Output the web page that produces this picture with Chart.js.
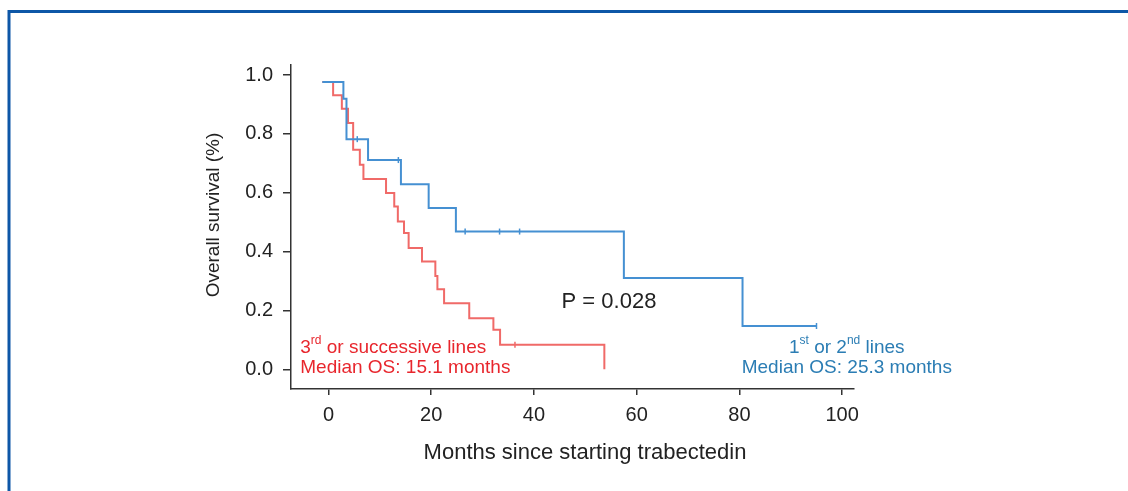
<!DOCTYPE html>
<html>
<head>
<meta charset="utf-8">
<script src="https://cdn.jsdelivr.net/npm/chart.js@4/dist/chart.umd.min.js"></script>
<style>
  html, body { margin: 0; padding: 0; background: #fff; }
  #wrap { position: relative; width: 1128px; height: 491px; }
</style>
</head>
<body>
<div id="wrap"><canvas id="kmChart" width="1128" height="491"></canvas></div>
<script>
// Kaplan-Meier steps, 1st or 2nd lines (months, survival after the step)
const blueTimes = [-1.2, 2.9, 3.5, 7.7, 14.1, 19.5, 24.8, 57.5, 80.6, 95.0];
const blueSurv = [0.976, 0.919, 0.782, 0.711, 0.629, 0.548, 0.468, 0.31, 0.147, 0.147];
const blueCensorTimes = [5.6, 13.6, 26.6, 33.3, 37.2, 95.0];
const blueCensorSurv = [0.782, 0.711, 0.468, 0.468, 0.468, 0.147];

// 3rd or successive lines
const redTimes = [-1.2, 0.9, 2.6, 3.8, 4.8, 6.1, 6.8, 11.2, 12.8, 13.5, 14.7, 15.6, 18.2, 20.8, 21.2, 22.5, 27.4, 32.1, 33.4, 53.7];
const redSurv = [0.976, 0.931, 0.885, 0.837, 0.746, 0.695, 0.647, 0.599, 0.553, 0.502, 0.463, 0.412, 0.366, 0.317, 0.272, 0.224, 0.173, 0.134, 0.083, 0.0];
const redCensorTimes = [36.3];
const redCensorSurv = [0.083];

const xTicks = [0, 20, 40, 60, 80, 100];
const yTicks = [0, 0.2, 0.4, 0.6, 0.8, 1.0];

const xTitle = "Months since starting trabectedin";
const yTitle = "Overall survival (%)";
const pText = "P = 0.028";

const BLUE = "#4590d2";
const RED = "#f06a68";
const BLUE_TXT = "#2b7db4";
const RED_TXT = "#e8262d";
const INK = "#222";
const FONT = "'Liberation Sans', Arial, sans-serif";

const toPts = (xs, ys) => xs.map((x, i) => ({ x: x, y: ys[i] }));

// draw text made of segments, some of them superscript
function richText(ctx, segs, x, y, size, align) {
  const widths = segs.map((s) => {
    ctx.font = (s.sup ? Math.round(size * 0.62) : size) + "px " + FONT;
    return ctx.measureText(s.t).width;
  });
  const total = widths.reduce((a, b) => a + b, 0);
  let cx = align === "center" ? x - total / 2 : x;
  segs.forEach((s, i) => {
    ctx.font = (s.sup ? Math.round(size * 0.62) : size) + "px " + FONT;
    ctx.fillText(s.t, cx, s.sup ? y - size * 0.36 : y);
    cx += widths[i];
  });
}

const decor = {
  id: "decor",
  beforeDraw(chart) {
    const ctx = chart.ctx;
    ctx.save();
    // journal figure frame
    ctx.strokeStyle = "#0d57a7";
    ctx.lineWidth = 3;
    ctx.beginPath();
    ctx.moveTo(9, 491);
    ctx.lineTo(9, 11.5);
    ctx.lineTo(1128, 11.5);
    ctx.stroke();
    ctx.restore();
  },
  afterDraw(chart) {
    const ctx = chart.ctx;
    const xs = chart.scales.x, ys = chart.scales.y;
    ctx.save();
    ctx.textBaseline = "middle";

    // axis titles
    ctx.fillStyle = INK;
    ctx.textAlign = "center";
    ctx.font = "22px " + FONT;
    ctx.fillText(xTitle, 585, 453);
    ctx.save();
    ctx.translate(214, 215);
    ctx.rotate(-Math.PI / 2);
    ctx.font = "19px " + FONT;
    ctx.fillText(yTitle, 0, 0);
    ctx.restore();

    // p value
    ctx.font = "22px " + FONT;
    ctx.fillText(pText, xs.getPixelForValue(54.6), ys.getPixelForValue(0.228));

    // group labels
    ctx.textAlign = "left";
    ctx.fillStyle = RED_TXT;
    const rx = xs.getPixelForValue(-5.5);
    richText(ctx, [{ t: "3" }, { t: "rd", sup: true }, { t: " or successive lines" }], rx, ys.getPixelForValue(0.073), 19, "left");
    richText(ctx, [{ t: "Median OS: 15.1 months" }], rx, ys.getPixelForValue(0.006), 19, "left");

    ctx.fillStyle = BLUE_TXT;
    const bx = xs.getPixelForValue(100.9);
    richText(ctx, [{ t: "1" }, { t: "st", sup: true }, { t: " or 2" }, { t: "nd", sup: true }, { t: " lines" }], bx, ys.getPixelForValue(0.073), 19, "center");
    richText(ctx, [{ t: "Median OS: 25.3 months" }], bx, ys.getPixelForValue(0.006), 19, "center");
    ctx.restore();
  },
};

new Chart(document.getElementById("kmChart"), {
  type: "line",
  data: {
    datasets: [
      {
        label: "1st or 2nd lines",
        data: toPts(blueTimes, blueSurv),
        borderColor: BLUE,
        borderWidth: 2,
        stepped: "before",
        pointRadius: 0,
        fill: false,
        order: 1,
      },
      {
        label: "1st or 2nd censored",
        data: toPts(blueCensorTimes, blueCensorSurv),
        showLine: false,
        pointStyle: "line",
        rotation: 90,
        pointRadius: 3,
        borderColor: BLUE,
        pointBorderWidth: 1.5,
        order: 0,
      },
      {
        label: "3rd or successive lines",
        data: toPts(redTimes, redSurv),
        borderColor: RED,
        borderWidth: 2,
        stepped: "before",
        pointRadius: 0,
        fill: false,
        order: 3,
      },
      {
        label: "3rd censored",
        data: toPts(redCensorTimes, redCensorSurv),
        showLine: false,
        pointStyle: "line",
        rotation: 90,
        pointRadius: 3,
        borderColor: RED,
        pointBorderWidth: 1.5,
        order: 2,
      },
    ],
  },
  options: {
    responsive: false,
    animation: false,
    devicePixelRatio: 1,
    layout: { padding: { left: 150, right: 274, top: 65, bottom: 40 } },
    plugins: { legend: { display: false }, tooltip: { enabled: false } },
    scales: {
      x: {
        type: "linear",
        min: -7.3,
        max: 102.3,
        afterBuildTicks: (scale) => {
          scale.ticks = xTicks.map((v) => ({ value: v }));
        },
        afterFit: (scale) => {
          scale.height = 491 - 40 - 389;
        },
        ticks: { color: INK, font: { family: FONT, size: 20 }, padding: 8, maxRotation: 0 },
        grid: { drawOnChartArea: false, drawTicks: true, tickLength: 6, color: "#333", lineWidth: 1.5 },
        border: { color: "#333", width: 1.5 },
      },
      y: {
        type: "linear",
        min: -0.067,
        max: 1.034,
        afterBuildTicks: (scale) => {
          scale.ticks = yTicks.map((v) => ({ value: v }));
        },
        afterFit: (scale) => {
          scale.width = 291 - 150;
        },
        ticks: {
          color: INK,
          font: { family: FONT, size: 20 },
          padding: 10,
          callback: (v) => Number(v).toFixed(1),
        },
        grid: { drawOnChartArea: false, drawTicks: true, tickLength: 8, color: "#333", lineWidth: 1.5 },
        border: { color: "#333", width: 1.5 },
      },
    },
  },
  plugins: [decor],
});
</script>
</body>
</html>
